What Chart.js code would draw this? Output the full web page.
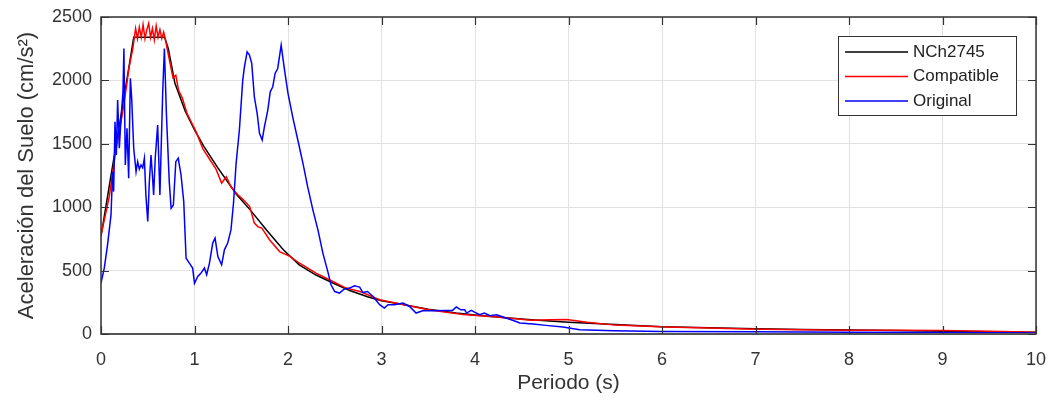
<!DOCTYPE html>
<html>
<head>
<meta charset="utf-8">
<script src="https://cdn.jsdelivr.net/npm/chart.js@4.4.1/dist/chart.umd.min.js"></script>
<style>
  html, body { margin: 0; padding: 0; background: #fff; }
</style>
</head>
<body>
<canvas id="grafica" width="1050" height="401"></canvas>
<script>
// espectro de diseño NCh2745
const periodoNCh = [0, 0.1, 0.2, 0.3, 0.35, 0.5, 0.68, 0.72, 0.79, 0.9,
  1.0, 1.1, 1.25, 1.45, 1.6, 1.77, 1.95, 2.12, 2.3, 2.48,
  2.66, 2.85, 3.0, 3.2, 3.5, 3.8, 4.0, 4.3, 4.6, 5.0,
  5.5, 6.0, 6.5, 7.0, 7.5, 8.0, 8.5, 9.0, 9.5, 10.0];
const saNCh = [770, 1220, 1660, 2110, 2340, 2340, 2340, 2250, 1980, 1760,
  1610, 1480, 1310, 1100, 975, 820, 665, 545, 465, 402,
  343, 294, 262, 236, 195, 165, 150, 130, 112, 92,
  75, 58, 50, 42, 36, 31, 27, 22, 18, 14];

// registro compatible
const periodoComp = [0, 0.05, 0.09, 0.13, 0.16, 0.2, 0.23, 0.27, 0.3, 0.34,
  0.37, 0.39, 0.41, 0.43, 0.45, 0.47, 0.49, 0.51, 0.53, 0.55,
  0.57, 0.59, 0.61, 0.63, 0.65, 0.67, 0.69, 0.71, 0.74, 0.77,
  0.8, 0.83, 0.87, 0.92, 0.96, 1.02, 1.09, 1.16, 1.23, 1.29,
  1.34, 1.39, 1.46, 1.52, 1.59, 1.64, 1.68, 1.72, 1.8, 1.91,
  2.02, 2.12, 2.3, 2.48, 2.62, 2.77, 2.98, 3.19, 3.5, 3.87,
  4.23, 4.6, 4.8, 4.98, 5.2, 5.5, 5.7, 6.05, 6.5, 6.9,
  7.5, 8.0, 8.5, 9.0, 9.5, 10.0];
const saComp = [780, 950, 1090, 1300, 1450, 1620, 1740, 1940, 2100, 2250,
  2410, 2330, 2420, 2340, 2440, 2330, 2400, 2450, 2340, 2410,
  2320, 2430, 2340, 2400, 2330, 2380, 2320, 2240, 2130, 2020,
  2040, 1920, 1860, 1740, 1680, 1590, 1460, 1380, 1300, 1190,
  1240, 1160, 1100, 1060, 1005, 875, 845, 835, 745, 650,
  612, 560, 480, 414, 362, 335, 270, 239, 192, 154,
  134, 108, 112, 114, 92, 70, 65, 55, 48, 40,
  34, 29, 29, 28, 22, 13];

// registro original
const periodoOrig = [0, 0.035, 0.07, 0.107, 0.124, 0.135, 0.15, 0.164, 0.178, 0.196,
  0.214, 0.235, 0.245, 0.26, 0.278, 0.296, 0.314, 0.328, 0.35, 0.375,
  0.392, 0.41, 0.428, 0.446, 0.464, 0.48, 0.5, 0.517, 0.535, 0.55,
  0.563, 0.58, 0.606, 0.63, 0.66, 0.678, 0.7, 0.73, 0.75, 0.774,
  0.8, 0.826, 0.856, 0.885, 0.91, 0.945, 0.98, 1.0, 1.035, 1.07,
  1.106, 1.13, 1.16, 1.195, 1.22, 1.25, 1.29, 1.32, 1.355, 1.39,
  1.417, 1.445, 1.48, 1.516, 1.534, 1.563, 1.588, 1.612, 1.64, 1.67,
  1.695, 1.724, 1.748, 1.784, 1.81, 1.837, 1.862, 1.89, 1.927, 1.963,
  2.0, 2.05, 2.105, 2.16, 2.21, 2.266, 2.32, 2.373, 2.43, 2.46,
  2.5, 2.55, 2.6, 2.66, 2.71, 2.766, 2.8, 2.85, 2.91, 2.98,
  3.03, 3.07, 3.14, 3.23, 3.3, 3.37, 3.44, 3.55, 3.69, 3.76,
  3.8, 3.85, 3.89, 3.91, 3.96, 4.0, 4.05, 4.1, 4.16, 4.23,
  4.3, 4.41, 4.48, 4.62, 4.76, 4.94, 5.12, 5.48, 6.0, 7.0,
  8.0, 9.0, 10.0];
const saOrig = [402, 520, 703, 939, 1280, 1123, 1674, 1412, 1845, 1465,
  1700, 1910, 2252, 1333, 1622, 1228, 2016, 1858, 1465, 1280,
  1359, 1300, 1333, 1310, 1386, 1097, 887, 1202, 1412, 1250,
  1097, 1386, 1648, 1097, 1910, 2252, 1727, 1202, 992, 1018,
  1359, 1386, 1254, 1044, 598, 559, 520, 400, 454, 480,
  520, 467, 559, 717, 756, 611, 546, 664, 717, 821,
  1031, 1346, 1609, 2002, 2107, 2225, 2199, 2134, 1871, 1740,
  1583, 1530, 1635, 1766, 1910, 1950, 2055, 2094, 2278, 2081,
  1898, 1713, 1530, 1346, 1162, 979, 821, 638, 480, 388,
  335, 323, 354, 362, 380, 370, 328, 335, 296, 231,
  205, 231, 231, 244, 217, 165, 183, 183, 186, 186,
  213, 191, 191, 165, 186, 170, 152, 165, 144, 152,
  134, 107, 87, 79, 68, 55, 34, 26, 20, 17,
  14, 12, 8];

const ticksX = [0, 1, 2, 3, 4, 5, 6, 7, 8, 9, 10];
const ticksY = [0, 500, 1000, 1500, 2000, 2500];

const fuente = "'Liberation Sans', Arial, sans-serif";
const puntos = (t, s) => t.map((v, i) => ({ x: v, y: s[i] }));

// caja de ejes con marcas hacia adentro (estilo matlab)
const marcoEjes = {
  id: 'marcoEjes',
  afterDatasetsDraw(chart) {
    const { ctx, chartArea: a, scales } = chart;
    ctx.save();
    ctx.strokeStyle = '#333';
    ctx.lineWidth = 1.5;
    ctx.strokeRect(a.left, a.top, a.right - a.left, a.bottom - a.top);
    ctx.strokeStyle = '#555';
    ctx.lineWidth = 2.2;
    ctx.beginPath();
    ctx.moveTo(a.left, a.bottom); ctx.lineTo(a.right, a.bottom);
    ctx.stroke();
    ctx.strokeStyle = '#333';
    ctx.beginPath();
    ticksX.forEach(v => {
      const px = Math.round(scales.x.getPixelForValue(v)) + 0.5;
      ctx.moveTo(px, a.bottom); ctx.lineTo(px, a.bottom - 8);
      ctx.moveTo(px, a.top); ctx.lineTo(px, a.top + 8);
    });
    ticksY.forEach(v => {
      const py = Math.round(scales.y.getPixelForValue(v)) + 0.5;
      ctx.moveTo(a.left, py); ctx.lineTo(a.left + 8, py);
      ctx.moveTo(a.right, py); ctx.lineTo(a.right - 8, py);
    });
    ctx.lineWidth = 1.2;
    ctx.stroke();
    ctx.restore();
  }
};

// leyenda dentro del area
const leyenda = {
  id: 'leyenda',
  afterDraw(chart) {
    const { ctx, chartArea: a } = chart;
    const w = 178, h = 79;
    const x0 = a.right - 20 - w, y0 = a.top + 19;
    ctx.save();
    ctx.fillStyle = '#fff';
    ctx.fillRect(x0, y0, w, h);
    ctx.strokeStyle = '#333';
    ctx.lineWidth = 1;
    ctx.strokeRect(x0 + 0.5, y0 + 0.5, w, h);
    ctx.font = '17px ' + fuente;
    ctx.textBaseline = 'middle';
    chart.data.datasets.forEach((ds, i) => {
      const y = y0 + 16 + i * 24.5;
      ctx.strokeStyle = ds.borderColor;
      ctx.lineWidth = 1.5;
      ctx.beginPath();
      ctx.moveTo(x0 + 7, y); ctx.lineTo(x0 + 70, y);
      ctx.stroke();
      ctx.fillStyle = '#222';
      ctx.fillText(ds.label, x0 + 75, y);
    });
    ctx.restore();
  }
};

const ctx = document.getElementById('grafica').getContext('2d');

new Chart(ctx, {
  type: 'line',
  data: {
    datasets: [
      { label: 'NCh2745', data: puntos(periodoNCh, saNCh), borderColor: '#000000', order: 3 },
      { label: 'Compatible', data: puntos(periodoComp, saComp), borderColor: '#ff0000', order: 2 },
      { label: 'Original', data: puntos(periodoOrig, saOrig), borderColor: '#0000ff', order: 1 }
    ]
  },
  options: {
    responsive: false,
    animation: false,
    elements: {
      point: { radius: 0 },
      line: { borderWidth: 1.5, tension: 0, fill: false }
    },
    layout: { padding: { left: 0, top: 17, right: 14, bottom: 0 } },
    plugins: {
      legend: { display: false },
      tooltip: { enabled: false }
    },
    scales: {
      x: {
        type: 'linear',
        min: 0, max: 10,
        afterBuildTicks(s) { s.ticks = ticksX.map(v => ({ value: v })); },
        afterFit(s) { s.height = 67; s.paddingLeft = 0; s.paddingRight = 0; },
        grid: { color: '#e2e2e2', lineWidth: 1, drawTicks: false },
        border: { display: false },
        ticks: { padding: 15, color: '#333', font: { family: fuente, size: 18 }, maxRotation: 0,
          callback: v => String(v) },
        title: { display: true, text: 'Periodo (s)', color: '#333', font: { family: fuente, size: 21 }, padding: { top: 0, bottom: 5 } }
      },
      y: {
        type: 'linear',
        min: 0, max: 2500,
        afterBuildTicks(s) { s.ticks = ticksY.map(v => ({ value: v })); },
        afterFit(s) { s.width = 101; s.paddingTop = 0; s.paddingBottom = 0; },
        grid: { color: '#e2e2e2', lineWidth: 1, drawTicks: false },
        border: { display: false },
        ticks: { padding: 9, color: '#333', font: { family: fuente, size: 18 },
          callback: v => String(v) },
        title: { display: true, text: 'Aceleración del Suelo (cm/s²)', color: '#333', font: { family: fuente, size: 22 }, padding: { top: 14, bottom: 0 } }
      }
    }
  },
  plugins: [marcoEjes, leyenda]
});
</script>
</body>
</html>
